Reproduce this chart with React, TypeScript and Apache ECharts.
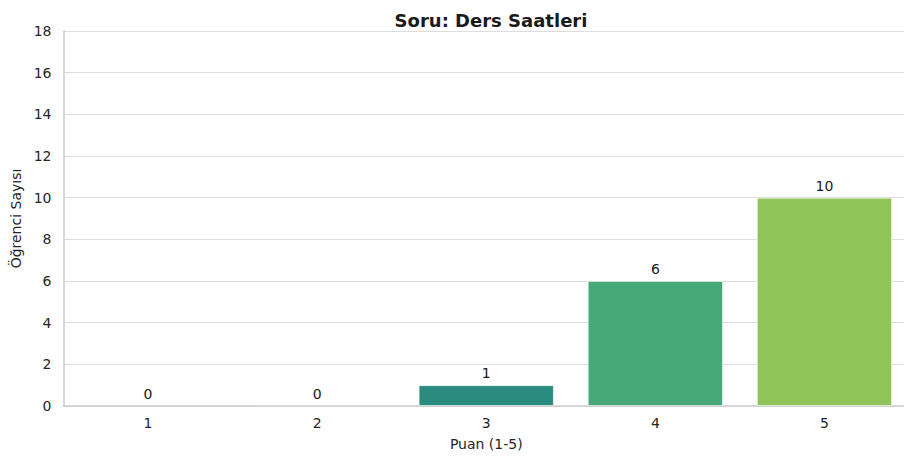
import React, { useEffect, useRef } from "react";
import * as echarts from "echarts";

const categories = ["1", "2", "3", "4", "5"];
const counts = [0, 0, 1, 6, 10];
const barColors = ["#4b2f7a", "#3a5f8c", "#2a8a7e", "#47a878", "#8fc558"];
const titleText = "Soru: Ders Saatleri";
const xName = "Puan (1-5)";
const yName = "Öğrenci Sayısı";

export default function App() {
  const ref = useRef<HTMLDivElement>(null);
  useEffect(() => {
    if (!ref.current) return;
    const chart = echarts.init(ref.current, undefined, { renderer: "svg" });
    const font = "DejaVu Sans";
    chart.setOption({
      animation: false,
      backgroundColor: "#ffffff",
      title: {
        text: titleText,
        left: 486,
        textAlign: "center",
        top: 6,
        textStyle: { fontFamily: font, fontWeight: "bold", fontSize: 18, color: "#1a1a1a" },
      },
      grid: { left: 63.5, top: 31, right: 0, bottom: 53 },
      xAxis: {
        type: "category",
        data: categories,
        name: xName,
        nameLocation: "middle",
        nameGap: 31,
        nameTextStyle: { fontFamily: font, fontSize: 14, color: "#262626" },
        axisLine: { show: true, lineStyle: { color: "#cccccc", width: 1.5 } },
        axisTick: { show: false },
        axisLabel: { fontFamily: font, fontSize: 14, color: "#262626", margin: 10 },
      },
      yAxis: {
        type: "value",
        min: 0,
        max: 18,
        interval: 2,
        name: yName,
        nameLocation: "middle",
        nameGap: 39,
        nameTextStyle: { fontFamily: font, fontSize: 14, color: "#262626" },
        axisLine: { show: true, lineStyle: { color: "#cccccc", width: 1.5 } },
        axisTick: { show: false },
        axisLabel: { fontFamily: font, fontSize: 14, color: "#262626", margin: 12 },
        splitLine: { lineStyle: { color: "#dddddd", width: 1.2 } },
      },
      series: [
        {
          type: "bar",
          barWidth: "80%",
          data: counts.map((v, i) => ({
            value: v,
            itemStyle: {
              color: barColors[i],
              borderColor: "rgba(255,255,255,0.55)",
              borderWidth: v > 0 ? 1 : 0,
            },
          })),
          label: {
            show: true,
            position: "top",
            distance: 5,
            fontFamily: font,
            fontSize: 14,
            color: "#1a1a1a",
          },
        },
      ],
    });
    return () => chart.dispose();
  }, []);
  return (
    <div style={{ position: "fixed", left: 0, top: 0, width: 904, height: 459, overflow: "hidden" }}>
      <div ref={ref} style={{ width: 909, height: 459 }} />
    </div>
  );
}
